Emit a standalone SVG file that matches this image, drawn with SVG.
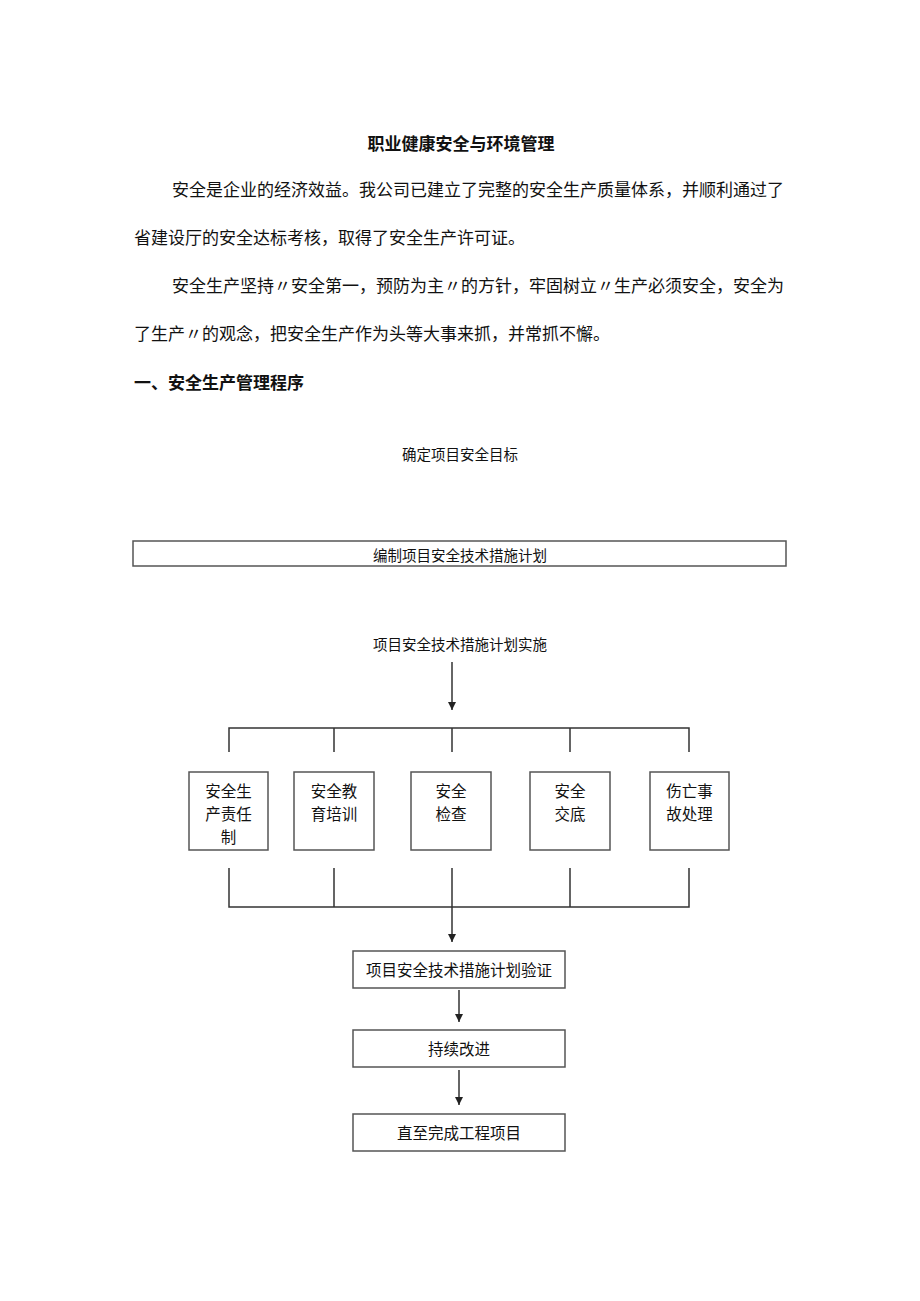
<svg xmlns="http://www.w3.org/2000/svg" width="920" height="1301" viewBox="0 0 920 1301">
<style>
text{font-family:"Noto Sans CJK SC","Noto Sans",sans-serif;fill:#111;dominant-baseline:central}
.body{font-size:17px}
.bold{font-size:17px;font-weight:bold}
.c{text-anchor:middle}
.s{font-size:14.5px}
.m{font-size:15.5px}
.box{fill:#fff;stroke:#555;stroke-width:1.5}
.ln{stroke:#333;stroke-width:1.5;fill:none}
</style>
<defs>
<marker id="ah" markerWidth="10" markerHeight="10" refX="8" refY="4" orient="auto" markerUnits="userSpaceOnUse">
<path d="M0,0 L8,4 L0,8 Z" fill="#222"/>
</marker>
</defs>
<rect width="920" height="1301" fill="#fff"/>
<g id="text-block">
<text class="bold c" x="461" y="142">职业健康安全与环境管理</text>
<text class="body" x="172" y="188">安全是企业的经济效益。我公司已建立了完整的安全生产质量体系，并顺利通过了</text>
<text class="body" x="134" y="236">省建设厅的安全达标考核，取得了安全生产许可证。</text>
<text class="body" x="172" y="284">安全生产坚持〃安全第一，预防为主〃的方针，牢固树立〃生产必须安全，安全为</text>
<text class="body" x="134" y="332">了生产〃的观念，把安全生产作为头等大事来抓，并常抓不懈。</text>
<text class="bold" x="134" y="381">一、安全生产管理程序</text>
</g>
<g id="n-goal"><text class="s c" x="460" y="453">确定项目安全目标</text></g>
<g id="n-plan"><rect class="box" x="133" y="541" width="653" height="25"/><text class="s c" x="460" y="554">编制项目安全技术措施计划</text></g>
<g id="n-impl"><text class="s c" x="460" y="643">项目安全技术措施计划实施</text></g>
<g id="n-b1"><rect class="box" x="189" y="772" width="79" height="78"/>
<text class="m c" x="228.5" y="790">安全生</text><text class="m c" x="228.5" y="813">产责任</text><text class="m c" x="228.5" y="836">制</text></g>
<g id="n-b2"><rect class="box" x="294" y="772" width="80" height="78"/>
<text class="m c" x="334" y="790">安全教</text><text class="m c" x="334" y="813">育培训</text></g>
<g id="n-b3"><rect class="box" x="411" y="772" width="80" height="78"/>
<text class="m c" x="451" y="790">安全</text><text class="m c" x="451" y="813">检查</text></g>
<g id="n-b4"><rect class="box" x="530" y="772" width="80" height="78"/>
<text class="m c" x="570" y="790">安全</text><text class="m c" x="570" y="813">交底</text></g>
<g id="n-b5"><rect class="box" x="650" y="772" width="79" height="78"/>
<text class="m c" x="689.5" y="790">伤亡事</text><text class="m c" x="689.5" y="813">故处理</text></g>
<g id="n-verify"><rect class="box" x="353" y="951" width="212" height="37"/><text class="m c" x="459" y="969">项目安全技术措施计划验证</text></g>
<g id="n-improve"><rect class="box" x="353" y="1030" width="212" height="37"/><text class="m c" x="459" y="1048">持续改进</text></g>
<g id="n-finish"><rect class="box" x="353" y="1114" width="212" height="37"/><text class="m c" x="459" y="1132">直至完成工程项目</text></g>
<g id="connectors">
<line class="ln" x1="452" y1="662" x2="452" y2="710" marker-end="url(#ah)"/>
<path class="ln" d="M229,752 V728 H689 V752 M334,728 V752 M452,728 V752 M570,728 V752"/>
<path class="ln" d="M229,868 V907 H689 V868 M334,868 V907 M570,868 V907"/>
<line class="ln" x1="452" y1="868" x2="452" y2="942" marker-end="url(#ah)"/>
<line class="ln" x1="459" y1="990" x2="459" y2="1022" marker-end="url(#ah)"/>
<line class="ln" x1="459" y1="1070" x2="459" y2="1105" marker-end="url(#ah)"/>
</g>
</svg>
